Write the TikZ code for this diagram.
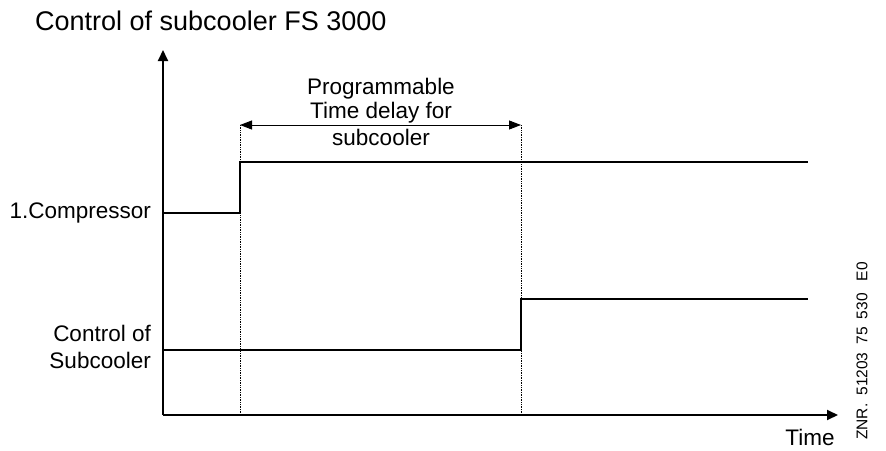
\documentclass[tikz,border=0pt]{standalone}
\usepackage{fontspec}
\setmainfont{Liberation Sans}
\usetikzlibrary{arrows.meta}
\begin{document}
\begin{tikzpicture}[x=1pt,y=-1pt,
  axis/.style={line width=1.9pt,-{Triangle[length=11pt,width=10pt]}},
  signal/.style={line width=2.2pt},
  guide/.style={line width=0.7pt,densely dotted},
  delay/.style={line width=0.9pt,{Triangle[length=12pt,width=9pt]}-{Triangle[length=12pt,width=9pt]}},
  lbl/.style={inner sep=0pt,font=\fontsize{22.5}{27}\selectfont}]
\useasboundingbox (0,0) rectangle (886,450);
% axes
\coordinate (o) at (163,415);
\coordinate (ytop) at (163,50);
\coordinate (xend) at (838,415);
\draw[axis] (o) -- (ytop);
\draw[axis] (o) -- (xend);
% guides
\coordinate (g1t) at (240,125);
\coordinate (g1b) at (240,415);
\coordinate (g2t) at (521,125);
\coordinate (g2b) at (521,415);
\draw[guide] (g1t) -- (g1b);
\draw[guide] (g2t) -- (g2b);
\draw[delay] (g1t) -- (g2t);
% signals
\coordinate (c0) at (163,213);
\coordinate (c1) at (240,213);
\coordinate (c2) at (240,162);
\coordinate (c3) at (808,162);
\draw[signal] (c0) -- (c1) -- (c2) -- (c3);
\coordinate (s0) at (163,350);
\coordinate (s1) at (521,350);
\coordinate (s2) at (521,299);
\coordinate (s3) at (808,299);
\draw[signal] (s0) -- (s1) -- (s2) -- (s3);
% texts
\node[lbl,anchor=west,font=\fontsize{27}{30}\selectfont] (title) at (35,21) {Control of subcooler FS 3000};
\node[lbl,align=center] (p1) at (381,89) {Programmable};
\node[lbl,align=center] (p2) at (381,113) {Time delay for};
\node[lbl,align=center] (p3) at (381,137) {subcooler};
\node[lbl,anchor=east] (comp) at (151,213) {1.Compressor};
\node[lbl,anchor=east] (ctl1) at (151,333) {Control of};
\node[lbl,anchor=east] (ctl2) at (151,360) {Subcooler};
\node[lbl] (time) at (810,437) {Time};
\node[inner sep=0pt,rotate=90,font=\fontsize{15.5}{17}\selectfont] (znr) at (862,351) {ZNR.\hspace{8pt}51203\hspace{8pt}75\hspace{8pt}530\hspace{12pt}E0};
\end{tikzpicture}
\end{document}
